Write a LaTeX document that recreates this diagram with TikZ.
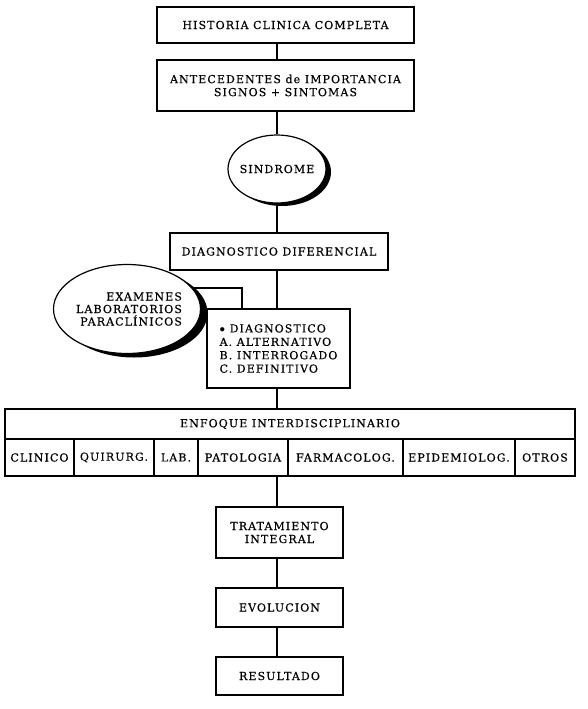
\documentclass[tikz,border=0pt]{standalone}
\usepackage{fontspec}
\setmainfont{DejaVu Serif}[LetterSpace=10,FakeBold=0.4]
\usetikzlibrary{shapes.geometric}
\begin{document}
\begin{tikzpicture}[x=1pt,y=-1pt,
  txt/.style={font=\fontsize{11}{13}\selectfont},
  box/.style={draw, line width=1.2pt, rectangle, inner sep=0pt, txt, align=center},
  oval/.style={draw, line width=1.2pt, ellipse, inner sep=0pt, fill=white},
  shade/.style={ellipse, fill=black, inner sep=0pt},
  label/.style={inner sep=0pt, txt},
  link/.style={line width=1.2pt}]
\useasboundingbox[fill=white] (0,0) rectangle (588,709);
\coordinate (spine) at (277,0);

% top chain
\node[box, minimum width=257pt, minimum height=36pt] (b1) at (285.5,25) {HISTORIA CLINICA COMPLETA};
\node[box, minimum width=257pt, minimum height=51pt] (b2) at (285.5,85.5) {ANTECEDENTES de IMPORTANCIA\\SIGNOS + SINTOMAS};
\node[shade, minimum width=98pt, minimum height=68pt] (sinsh) at (282,172) {};
\node[oval, minimum width=98pt, minimum height=68pt] (sin) at (277,169) {};
\node[label] (sint) at (sin.center) {SINDROME};
\node[box, minimum width=218pt, minimum height=37pt] (b3) at (279,251.5) {DIAGNOSTICO DIFERENCIAL};
\node[box, minimum width=143pt, minimum height=79pt, align=left, font=\fontsize{11}{13.4}\selectfont] (b4) at (278.5,348.5) {$\bullet$ DIAGNOSTICO\\A. ALTERNATIVO\\B. INTERROGADO\\C. DEFINITIVO};

% examenes
\coordinate (exc) at (127,309);
\coordinate (knee) at (242,288);
\draw[link] (exc |- knee) -- (knee) -- (knee |- b4.north);
\node[shade, minimum width=147pt, minimum height=89pt] (exsh) at (134,313) {};
\node[oval, minimum width=147pt, minimum height=89pt] (ex) at (exc) {};
\node[label, align=right, font=\fontsize{11}{12.5}\selectfont] (ext) at ([xshift=2pt]ex.center) {EXAMENES\\LABORATORIOS\\PARACLÍNICOS};

% enfoque
\node[box, minimum width=570pt, minimum height=30pt] (enf) at (290,424) {ENFOQUE INTERDISCIPLINARIO};
\node[box, minimum width=69pt, minimum height=37pt] (c1) at (39.5,457.5) {CLINICO};
\node[box, minimum width=80pt, minimum height=37pt] (c2) at (114,457.5) {QUIRURG.};
\node[box, minimum width=44pt, minimum height=37pt] (c3) at (176,457.5) {LAB.};
\node[box, minimum width=90pt, minimum height=37pt] (c4) at (243,457.5) {PATOLOGIA};
\node[box, minimum width=115pt, minimum height=37pt] (c5) at (345.5,457.5) {FARMACOLOG.};
\node[box, minimum width=112pt, minimum height=37pt] (c6) at (459,457.5) {EPIDEMIOLOG.};
\node[box, minimum width=60pt, minimum height=37pt] (c7) at (545,457.5) {OTROS};

% bottom chain
\node[box, minimum width=127pt, minimum height=51pt] (tr) at (279.5,532.5) {TRATAMIENTO\\INTEGRAL};
\node[box, minimum width=127pt, minimum height=39pt] (ev) at (279.5,607.5) {EVOLUCION};
\node[box, minimum width=127pt, minimum height=38pt] (re) at (279.5,676) {RESULTADO};

% connectors
\draw[link] (b1.south -| spine) -- (b2.north -| spine);
\draw[link] (b2.south -| spine) -- (sin.north);
\draw[link] (sin.south) -- (b3.north -| spine);
\draw[link] (b3.south -| spine) -- (b4.north -| spine);
\draw[link] (b4.south -| spine) -- (enf.north -| spine);
\draw[link] (c4.south -| spine) -- (tr.north -| spine);
\draw[link] (tr.south -| spine) -- (ev.north -| spine);
\draw[link] (ev.south -| spine) -- (re.north -| spine);
\end{tikzpicture}
\end{document}
